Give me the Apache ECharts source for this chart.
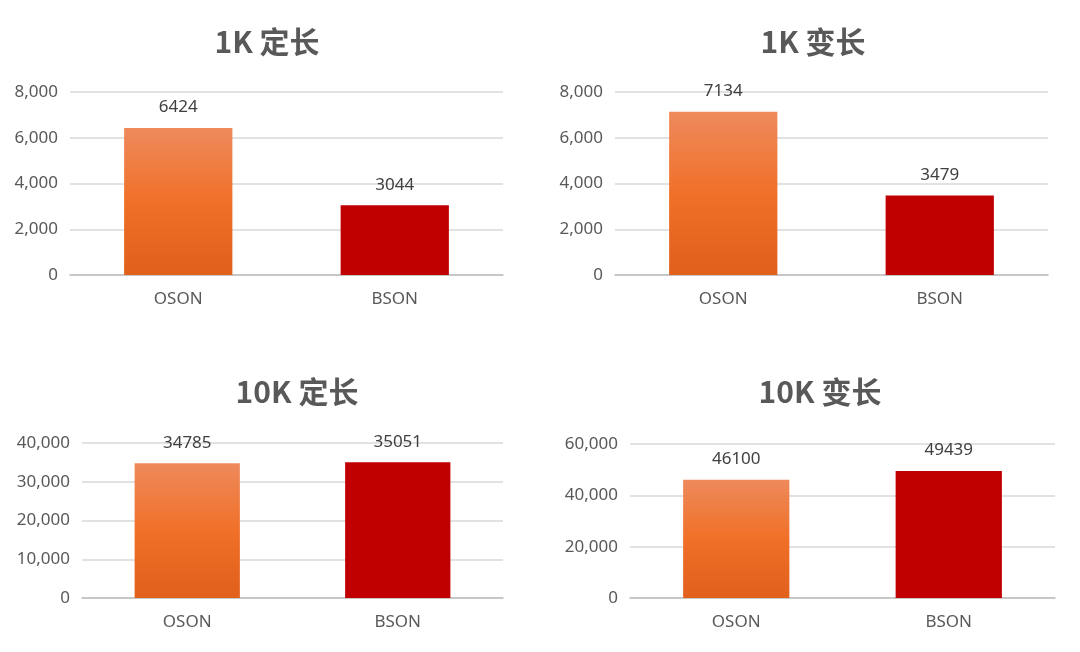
<!DOCTYPE html>
<html><head><meta charset="utf-8">
<script src="https://cdn.jsdelivr.net/npm/echarts@6/dist/echarts.min.js"></script>
<style>html,body{margin:0;padding:0;background:#fff}#c{width:1080px;height:652px}</style>
</head><body><div id="c"></div>
<script>
const categories = ['OSON', 'BSON'];
const titles = ['1K 定长', '1K 变长', '10K 定长', '10K 变长'];
const values1 = [6424, 3044];
const values2 = [7134, 3479];
const values3 = [34785, 35051];
const values4 = [46100, 49439];
const yMax = [8000, 8000, 40000, 60000];
const yInterval = [2000, 2000, 10000, 20000];
const allValues = [values1, values2, values3, values4];

const grids = [
  {left: 70, right: 1080-503, top: 92, height: 183},
  {left: 615, right: 1080-1048, top: 92, height: 183},
  {left: 82, right: 1080-503, top: 443, height: 155},
  {left: 630, right: 1080-1055, top: 444, height: 154}
];
const titlePos = [[262, 22], [808, 22], [292, 372], [815, 372]];
const orange = {type:'linear',x:0,y:0,x2:0,y2:1,colorStops:[{offset:0,color:'#EE8A5C'},{offset:0.5,color:'#F07028'},{offset:1,color:'#E0601C'}]};
const red = '#C00000';
const font = '"Noto Sans", sans-serif';
const opt = {
  animation:false,
  title: titles.map((t,i)=>({text:t,left:titlePos[i][0],top:titlePos[i][1],textAlign:'center',
    textStyle:{fontSize:30,fontWeight:'bold',color:'#595959',fontFamily:'"Noto Sans CJK SC", sans-serif'}})),
  grid: grids,
  xAxis: grids.map((g,i)=>({type:'category',gridIndex:i,data:categories,
    axisLine:{lineStyle:{color:'#bfbfbf',width:1.5}},axisTick:{show:false},
    axisLabel:{color:'#595959',fontSize:17,margin:16,fontFamily:font}})),
  yAxis: grids.map((g,i)=>({type:'value',gridIndex:i,min:0,max:yMax[i],interval:yInterval[i],
    axisLine:{show:false},axisTick:{show:false},
    splitLine:{lineStyle:{color:'#d9d9d9',width:1.5}},
    axisLabel:{color:'#595959',fontSize:17,margin:12,fontFamily:font}})),
  series: allValues.map((v,i)=>({type:'bar',xAxisIndex:i,yAxisIndex:i,barWidth:'50%',
    data:v.map((x,j)=>({value:x,itemStyle:{color:j===0?orange:red}})),
    label:{show:true,position:'top',distance:12,color:'#404040',fontSize:17,fontFamily:font}}))
};
echarts.init(document.getElementById('c')).setOption(opt);
</script></body></html>
